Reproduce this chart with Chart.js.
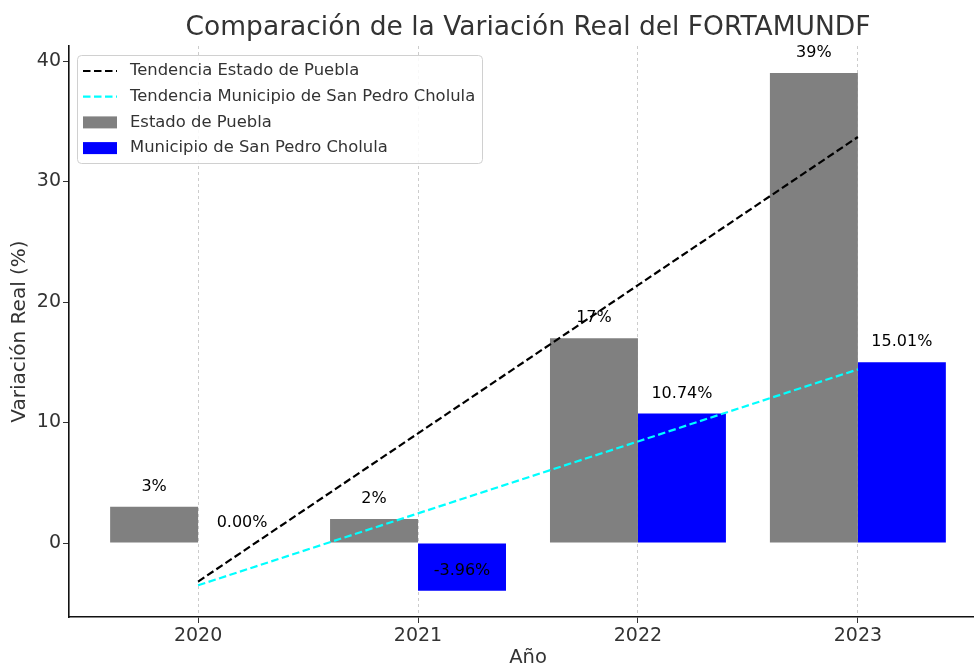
<!DOCTYPE html>
<html>
<head>
<meta charset="utf-8">
<script src="https://cdn.jsdelivr.net/npm/chart.js@4.4.1/dist/chart.umd.min.js"></script>
<style>
  html, body { margin: 0; padding: 0; background: #fff; overflow: hidden; }
  #wrap { width: 974px; height: 667px; }
</style>
</head>
<body>
<div id="wrap"><canvas id="chart" width="974" height="667"></canvas></div>
<script>
// ---- DATA ----
const years = [2020, 2021, 2022, 2023];
const pueblaValues = [3, 2, 17, 39];
const cholulaValues = [0.00, -3.96, 10.74, 15.01];
// trend lines
const pueblaTrend = [-3.2, 9.1, 21.4, 33.7];
const cholulaTrend = [-3.51, 2.46, 8.43, 14.41];
const pueblaLabels = ['3%', '2%', '17%', '39%'];
const cholulaLabels = ['0.00%', '-3.96%', '10.74%', '15.01%'];
const yTicks = [0, 10, 20, 30, 40];

const FONT = "'DejaVu Sans', sans-serif";
const TEXT = '#333333';

const pts = (vals) => vals.map((v, i) => ({ x: years[i], y: v }));

// ---- PLUGIN: title, axis titles, bar labels, legend ----
const decorations = {
    id: 'decorations',
    afterDraw(chart) {
        const { ctx, chartArea, scales } = chart;
        const ys = scales.y;
        ctx.save();

        // title
        ctx.fillStyle = TEXT;
        ctx.font = '26.5px ' + FONT;
        ctx.textAlign = 'center';
        ctx.textBaseline = 'middle';
        ctx.fillText('Comparación de la Variación Real del FORTAMUNDF', 528, 28);

        // axis titles
        ctx.font = '19.5px ' + FONT;
        ctx.fillText('Año', 528, 658);
        ctx.save();
        ctx.translate(20, (chartArea.top + chartArea.bottom) / 2);
        ctx.rotate(-Math.PI / 2);
        ctx.font = '20px ' + FONT;
        ctx.fillText('Variación Real (%)', 0, 0);
        ctx.restore();

        // bar value labels
        ctx.font = '16px ' + FONT;
        ctx.fillStyle = '#000';
        ctx.textBaseline = 'bottom';
        const labelSets = [[2, pueblaValues, pueblaLabels], [3, cholulaValues, cholulaLabels]];
        labelSets.forEach(([dsIndex, vals, labels]) => {
            const meta = chart.getDatasetMeta(dsIndex);
            meta.data.forEach((bar, i) => {
                ctx.fillText(labels[i], bar.x, ys.getPixelForValue(vals[i] + 1));
            });
        });

        // legend
        const lx = chartArea.left + 8, ly = chartArea.top + 9;
        const lw = 405, lh = 108;
        ctx.beginPath();
        ctx.roundRect(lx + 0.5, ly + 0.5, lw, lh, 4);
        ctx.fillStyle = 'rgba(255,255,255,0.85)';
        ctx.fill();
        ctx.strokeStyle = '#d0d0d0';
        ctx.lineWidth = 1;
        ctx.stroke();

        const items = [
            { type: 'line', color: '#000000', text: 'Tendencia Estado de Puebla' },
            { type: 'line', color: '#00ffff', text: 'Tendencia Municipio de San Pedro Cholula' },
            { type: 'box', color: '#808080', text: 'Estado de Puebla' },
            { type: 'box', color: '#0000ff', text: 'Municipio de San Pedro Cholula' }
        ];
        ctx.font = '16.4px ' + FONT;
        ctx.textAlign = 'left';
        ctx.textBaseline = 'middle';
        items.forEach((it, i) => {
            const cy = ly + 16 + i * 25.7;
            if (it.type === 'line') {
                ctx.beginPath();
                ctx.setLineDash([7.5, 3.5]);
                ctx.strokeStyle = it.color;
                ctx.lineWidth = 2.2;
                ctx.moveTo(lx + 6, cy);
                ctx.lineTo(lx + 40, cy);
                ctx.stroke();
                ctx.setLineDash([]);
            } else {
                ctx.fillStyle = it.color;
                ctx.fillRect(lx + 6, cy - 6, 34, 12);
            }
            ctx.fillStyle = TEXT;
            ctx.fillText(it.text, lx + 53, cy);
        });

        ctx.restore();
    }
};

new Chart(document.getElementById('chart'), {
    type: 'bar',
    data: {
        datasets: [
            {
                type: 'line',
                label: 'Tendencia Estado de Puebla',
                data: pts(pueblaTrend),
                borderColor: '#000000',
                borderWidth: 2.2,
                borderDash: [7.5, 3.5],
                pointRadius: 0,
                fill: false,
                order: 0
            },
            {
                type: 'line',
                label: 'Tendencia Municipio de San Pedro Cholula',
                data: pts(cholulaTrend),
                borderColor: '#00ffff',
                borderWidth: 2.2,
                borderDash: [7.5, 3.5],
                pointRadius: 0,
                fill: false,
                order: 0
            },
            {
                label: 'Estado de Puebla',
                data: pts(pueblaValues),
                backgroundColor: '#808080',
                categoryPercentage: 0.8,
                barPercentage: 1.0,
                order: 1
            },
            {
                label: 'Municipio de San Pedro Cholula',
                data: pts(cholulaValues),
                backgroundColor: '#0000ff',
                categoryPercentage: 0.8,
                barPercentage: 1.0,
                order: 1
            }
        ]
    },
    options: {
        responsive: false,
        animation: false,
        layout: { padding: { top: 46, right: 0, left: 0, bottom: 0 } },
        plugins: {
            legend: { display: false },
            title: { display: false },
            tooltip: { enabled: false }
        },
        scales: {
            x: {
                type: 'linear',
                min: 2019.413,
                max: 2023.528,
                offset: false,
                afterFit: s => { s.height = 50; },
                afterBuildTicks: s => { s.ticks = years.map(v => ({ value: v })); },
                ticks: {
                    font: { family: FONT, size: 19 },
                    color: TEXT,
                    padding: 2,
                    maxRotation: 0,
                    callback: v => String(v)
                },
                grid: {
                    offset: false,
                    color: '#cccccc',
                    lineWidth: 1,
                    tickLength: 6,
                    tickColor: TEXT,
                    tickBorderDash: []
                },
                border: { color: '#111111', width: 1.6, dash: [3, 3] }
            },
            y: {
                min: -6.14,
                max: 41.25,
                afterFit: s => { s.width = 69; },
                afterBuildTicks: s => { s.ticks = yTicks.map(v => ({ value: v })); },
                ticks: {
                    font: { family: FONT, size: 19 },
                    color: TEXT,
                    padding: 2
                },
                grid: {
                    drawOnChartArea: false,
                    tickLength: 6,
                    tickColor: TEXT
                },
                border: { color: '#111111', width: 1.6 }
            }
        }
    },
    plugins: [decorations]
});
</script>
</body>
</html>
